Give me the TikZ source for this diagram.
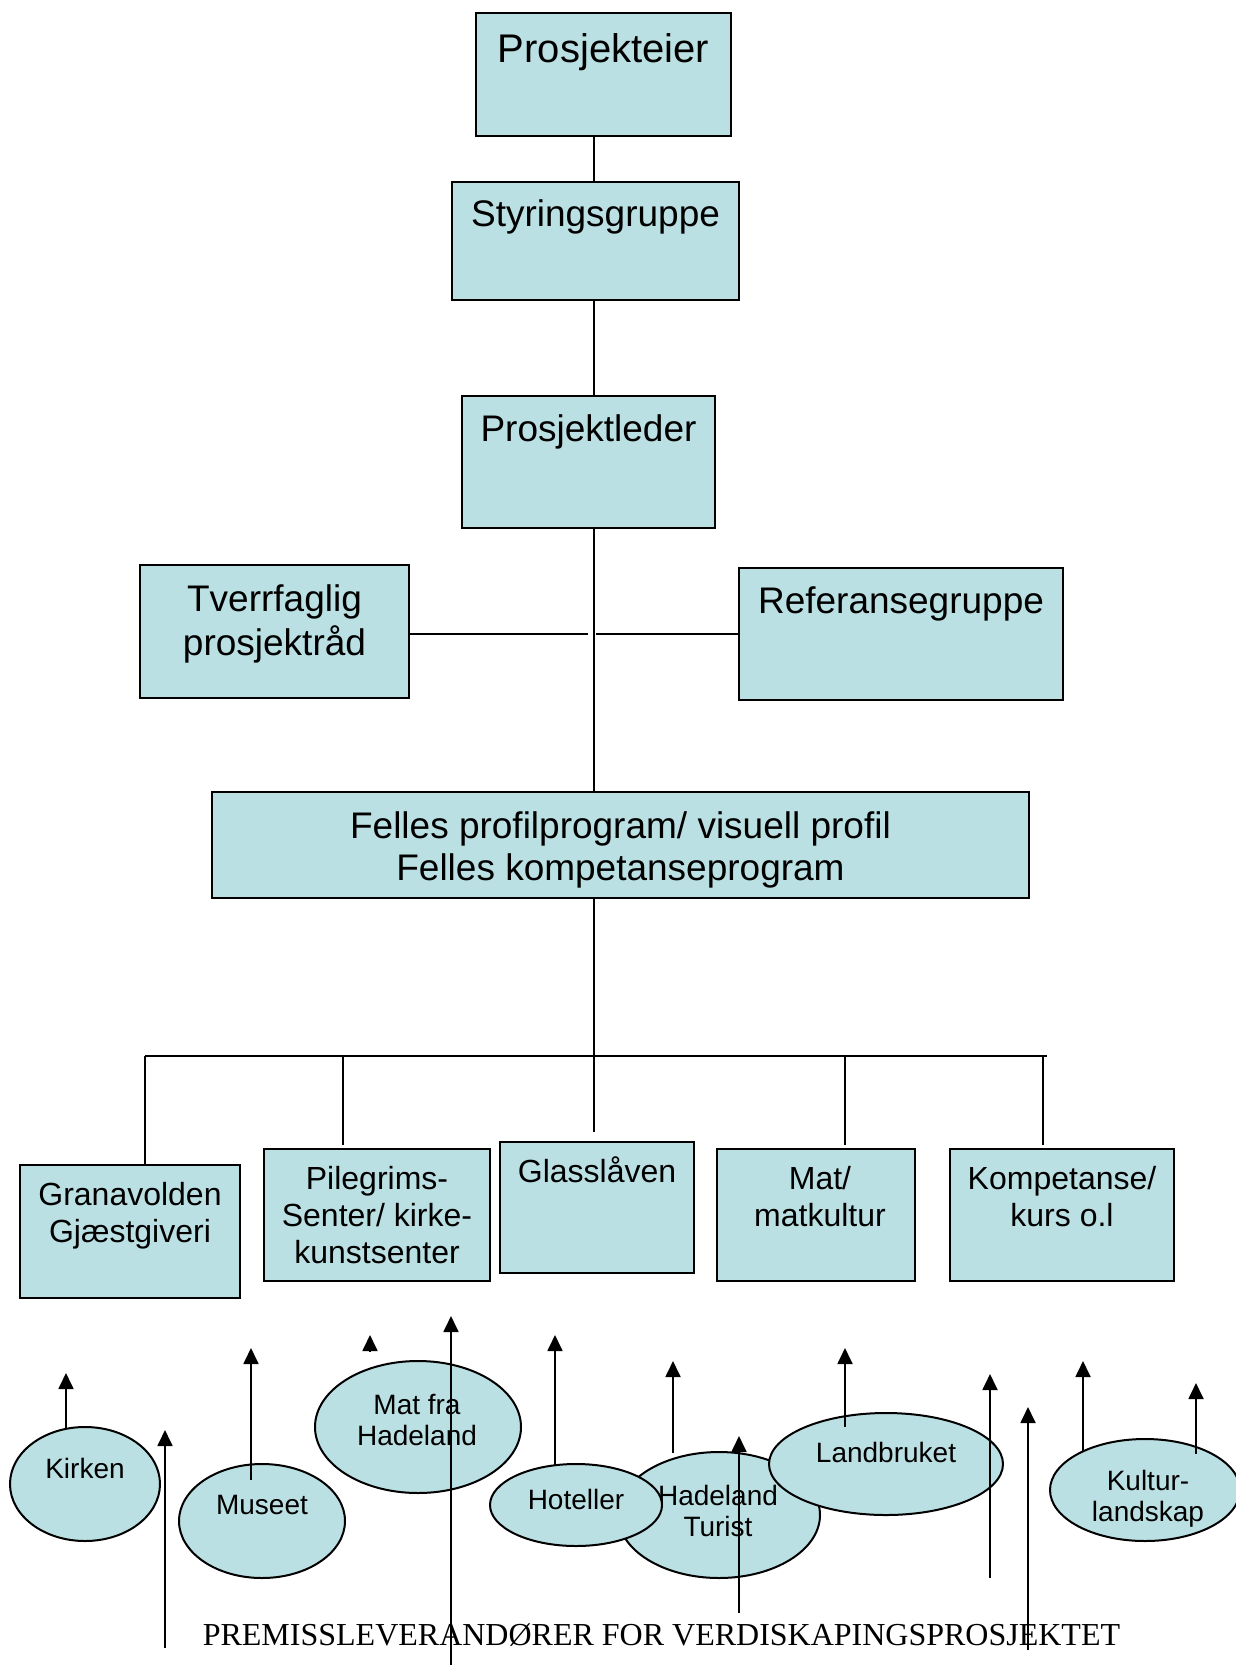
\documentclass[tikz,border=0pt]{standalone}
\usepackage{fontspec}
\setmainfont{Liberation Sans}
\newfontfamily\serifTimes{Liberation Serif}
\usetikzlibrary{arrows.meta,fit,shapes.geometric}
\definecolor{boxfill}{HTML}{BBE0E3}
\tikzset{
  box/.style={draw=black, line width=1pt, fill=boxfill, inner sep=0pt, rectangle},
  ell/.style={draw=black, line width=1pt, fill=boxfill, ellipse, inner sep=0pt},
  conn/.style={line width=0.8pt},
  arr/.style={line width=0.9pt, -{Triangle[length=8pt,width=7.5pt]}},
  lblA/.style={anchor=north, inner sep=0pt, align=center, font=\fontsize{20}{24}\selectfont},
  lblB/.style={anchor=north, inner sep=0pt, align=center, font=\fontsize{18.5}{21}\selectfont},
  lblC/.style={anchor=north, inner sep=0pt, align=center, font=\fontsize{16}{18.5}\selectfont},
  lblD/.style={anchor=north, inner sep=0pt, align=center, font=\fontsize{14}{15.5}\selectfont},
}
\begin{document}
\begin{tikzpicture}[x=0.5pt,y=-0.5pt]
\useasboundingbox (0,0) rectangle (1236,1665);
\clip (0,0) rectangle (1236,1665);
\fill[white] (0,0) rectangle (1236,1665);

% ---------- boxes ----------
\node[box, fit={(476,13) (731,136)}] (pe) {};
\node[box, fit={(452,182) (739,300)}] (sg) {};
\node[box, fit={(462,396) (715,528)}] (pl) {};
\node[box, fit={(140,565) (409,698)}] (tv) {};
\node[box, fit={(739,568) (1063,700)}] (rg) {};
\node[box, fit={(212,792) (1029,898)}] (fp) {};
\node[box, fit={(20,1165) (240,1298)}] (gg) {};
\node[box, fit={(264,1149) (490,1281)}] (pg) {};
\node[box, fit={(500,1142) (694,1273)}] (gl) {};
\node[box, fit={(717,1149) (915,1281)}] (mm) {};
\node[box, fit={(950,1149) (1174,1281)}] (kk) {};

% ---------- box labels ----------
\node[lblA] (peT) at (pe.north |- 0,28.1) {\strut Prosjekteier};
\node[lblB] (sgT) at (sg.north |- 0,196.6) {\strut Styringsgruppe};
\node[lblB] (plT) at (pl.north |- 0,411.6) {\strut Prosjektleder};
\node[lblB] (tvT) at (tv.north |- 0,581.6) {\strut Tverrfaglig\\\strut prosjektråd};
\node[lblB] (rgT) at (rg.north |- 0,583.6) {\strut Referansegruppe};
\node[lblB] (fpT) at (fp.north |- 0,808.6) {\strut Felles profilprogram/ visuell profil\\\strut Felles kompetanseprogram};
\node[lblC] (ggT) at (gg.north |- 0,1179.1) {\strut Granavolden\\\strut Gjæstgiveri};
\node[lblC] (pgT) at (pg.north |- 0,1163.1) {\strut Pilegrims-\\\strut Senter/ kirke-\\\strut kunstsenter};
\node[lblC] (glT) at (gl.north |- 0,1156.1) {\strut Glasslåven};
\node[lblC] (mmT) at (820,1163.1) {\strut Mat/\\\strut matkultur};
\node[lblC] (kkT) at (kk.north |- 0,1163.1) {\strut Kompetanse/\\\strut kurs o.l};

% ---------- tree connectors ----------
\coordinate (sp) at (594,0);
\coordinate (hl) at (0,634);
\coordinate (hlL) at (588,634);
\coordinate (hlR) at (596,634);
\coordinate (glTop) at (594,1132);
\coordinate (busL) at (145,1056);
\coordinate (busR) at (1047,1056);
\coordinate (b2) at (343,1056);
\coordinate (b4) at (845,1056);
\coordinate (b5) at (1043,1056);

\draw[conn] (pe.south -| sp) -- (sg.north -| sp);
\draw[conn] (sg.south -| sp) -- (pl.north -| sp);
\draw[conn] (pl.south -| sp) -- (fp.north -| sp);
\draw[conn] (tv.east |- hl) -- (hlL);
\draw[conn] (hlR) -- (rg.west |- hl);
\draw[conn] (fp.south -| sp) -- (glTop);
\draw[conn] (busL) -- (busR);
\draw[conn] (busL) -- (busL |- gg.north);
\draw[conn] (b2) -- ([yshift=1.5pt]b2 |- pg.north);
\draw[conn] (b4) -- ([yshift=1.5pt]b4 |- mm.north);
\draw[conn] (b5) -- ([yshift=1.5pt]b5 |- kk.north);

% ---------- bottom: ellipses and arrows ----------
\node[ell, minimum width=75pt, minimum height=57pt] (kirken) at (85,1484) {};
\node[lblD] (kirkenT) at (85,1456.3) {\strut Kirken};
\coordinate (kA) at (66,1428); \coordinate (kB) at (66,1373);
\draw[arr] (kA) -- (kB);

\coordinate (a2A) at (165,1648); \coordinate (a2B) at (165,1430);
\draw[arr] (a2A) -- (a2B);

\node[ell, minimum width=83pt, minimum height=57pt] (museet) at (262,1521) {};
\node[lblD] (museetT) at (262,1492.3) {\strut Museet};
\coordinate (mA) at (251,1480); \coordinate (mB) at (251,1348);
\draw[arr] (mA) -- (mB);

\coordinate (loneA) at (370,1351); \coordinate (loneB) at (370,1335);
\draw[arr] (loneA) -- (loneB);

\node[ell, minimum width=103pt, minimum height=66pt] (matfra) at (418,1427) {};
\node[lblD] (matfraT) at (417,1392.3) {\strut Mat fra\\\strut Hadeland};
\coordinate (lgA) at (451,1665); \coordinate (lgB) at (451,1316);
\draw[arr] (lgA) -- (lgB);

\node[ell, minimum width=101pt, minimum height=63pt] (hturist) at (719,1515) {};
\node[lblD] (hturistT) at (718,1483.3) {\strut Hadeland\\\strut Turist};
\node[ell, minimum width=86pt, minimum height=41pt] (hotell) at (576,1505) {};
\node[lblD] (hotellT) at (576,1487.3) {\strut Hoteller};
\coordinate (hA) at (555,1466); \coordinate (hB) at (555,1335);
\draw[arr] (hA) -- (hB);
\coordinate (a6A) at (739,1613); \coordinate (a6B) at (739,1436);
\draw[arr] (a6A) -- (a6B);

\node[ell, minimum width=117pt, minimum height=51pt] (landbr) at (886,1464) {};
\node[lblD] (landbrT) at (886,1440.3) {\strut Landbruket};
\coordinate (a5A) at (673,1453); \coordinate (a5B) at (673,1361);
\draw[arr] (a5A) -- (a5B);
\coordinate (lbA) at (845,1427); \coordinate (lbB) at (845,1348);
\draw[arr] (lbA) -- (lbB);
\coordinate (a9A) at (990,1578); \coordinate (a9B) at (990,1374);
\draw[arr] (a9A) -- (a9B);
\coordinate (a10A) at (1028,1650); \coordinate (a10B) at (1028,1407);
\draw[arr] (a10A) -- (a10B);

\node[ell, minimum width=95pt, minimum height=51pt] (kultur) at (1145,1490) {};
\node[lblD] (kulturT) at (1148,1468.3) {\strut Kultur-\\\strut landskap};
\coordinate (kuA) at (1083,1452); \coordinate (kuB) at (1083,1361);
\draw[arr] (kuA) -- (kuB);
\coordinate (kvA) at (1196,1454); \coordinate (kvB) at (1196,1383);
\draw[arr] (kvA) -- (kvB);

% ---------- caption ----------
\node[anchor=base, inner sep=0pt, font=\serifTimes\fontsize{16}{19}\selectfont] (cap) at (661.5,1645) {PREMISSLEVERANDØRER FOR VERDISKAPINGSPROSJEKTET};
\end{tikzpicture}
\end{document}
